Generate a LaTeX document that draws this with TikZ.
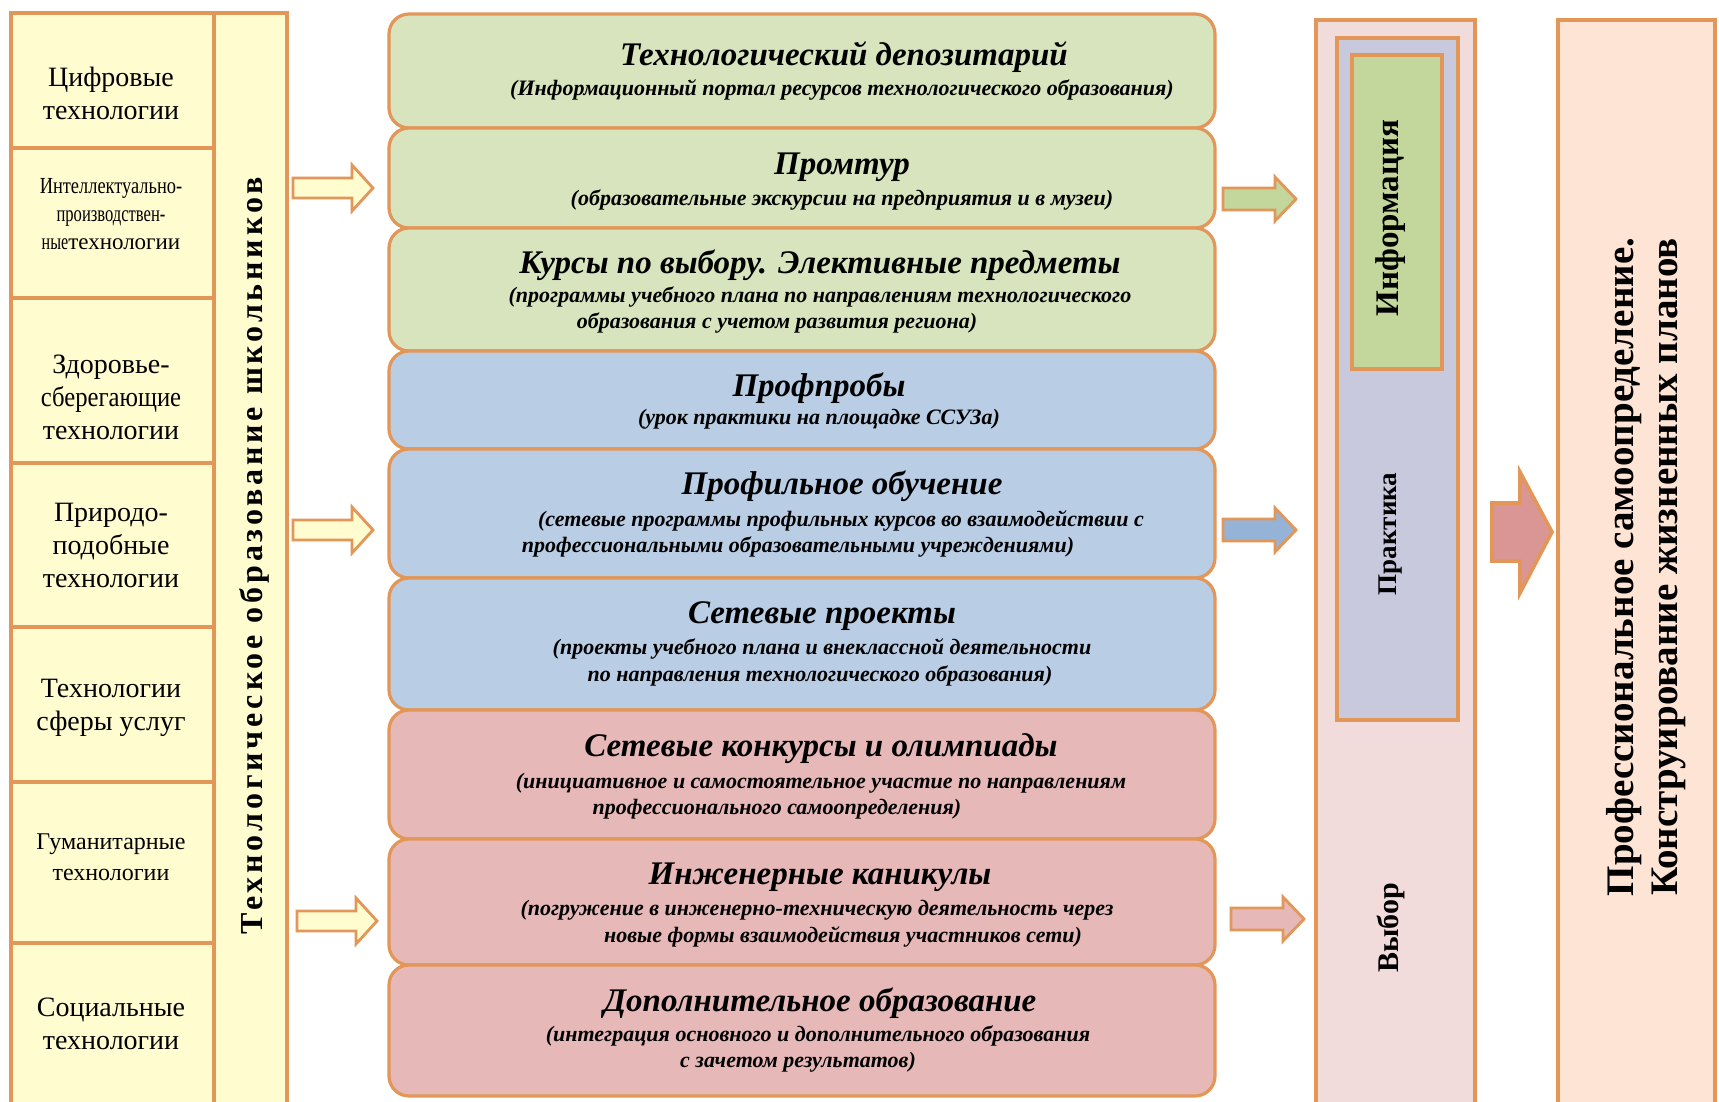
\documentclass[tikz,border=0pt]{standalone}
\usepackage{fontspec}
\usepackage{graphicx}
\setmainfont{Liberation Serif}
\newfontfamily\spacedfont{Liberation Serif}[LetterSpace=12]
\definecolor{obrd}{RGB}{226,150,88}
\definecolor{lyel}{RGB}{255,252,208}
\definecolor{gbox}{RGB}{215,228,189}
\definecolor{bbox}{RGB}{185,205,229}
\definecolor{rbox}{RGB}{230,184,183}
\definecolor{rcol}{RGB}{242,220,219}
\definecolor{pcol}{RGB}{200,201,220}
\definecolor{icol}{RGB}{195,214,155}
\definecolor{bigar}{RGB}{217,150,148}
\definecolor{fbox}{RGB}{253,228,212}
\definecolor{barr}{RGB}{149,179,215}
\tikzset{
  leftbox/.style={draw=obrd, line width=1.6pt, fill=lyel},
  midbox/.style={draw=obrd, line width=1.6pt, rounded corners=10pt},
  rbox/.style={draw=obrd, line width=1.6pt},
  blockarr/.style={draw=obrd, line width=1.4pt, line join=miter},
  ttl/.style={font=\bfseries\itshape\fontsize{16.5}{19}\selectfont, inner sep=0pt},
  subt/.style={font=\bfseries\itshape\fontsize{11}{13}\selectfont, inner sep=0pt},
  lbl/.style={font=\fontsize{14}{16.5}\selectfont, align=center, inner sep=0pt},
  rlbl/.style={font=\bfseries\fontsize{15}{18}\selectfont, rotate=90, inner sep=0pt},
}
\begin{document}
\begin{tikzpicture}[x=0.5pt,y=-0.5pt]
\useasboundingbox (0,0) rectangle (1719,1102);
\fill[white] (0,0) rectangle (1719,1102);
\clip (0,0) rectangle (1719,1102);

% ---------- left column ----------
\draw[leftbox] (11,13) rectangle (214,148);
\draw[leftbox] (11,148) rectangle (214,298);
\draw[leftbox] (11,298) rectangle (214,463);
\draw[leftbox] (11,463) rectangle (214,627);
\draw[leftbox] (11,627) rectangle (214,782);
\draw[leftbox] (11,782) rectangle (214,943);
\draw[leftbox] (11,943) rectangle (214,1130);
\draw[leftbox] (214,13) rectangle (287,1130);

\node[lbl] (l1) at (111,93) {Цифровые\\технологии};
\node[lbl, font=\fontsize{11.5}{14}\selectfont] (l2) at (111,214)
  {\scalebox{0.8}[1]{Интеллектуально-}\\\scalebox{0.72}[1]{производствен-}\\\scalebox{0.7}[1]{ные}технологии};
\node[lbl] (l3) at (111,397) {Здоровье-\\\scalebox{0.88}[1]{сберегающие}\\технологии};
\node[lbl] (l4) at (111,545) {Природо-\\подобные\\технологии};
\node[lbl] (l5) at (111,708) {Технологии\\сферы услуг};
\node[lbl, font=\fontsize{12}{15.5}\selectfont] (l6) at (111,857) {Гуманитарные\\технологии};
\node[lbl] (l7) at (111,1024) {Социальные\\технологии};

\node[rotate=90, inner sep=0pt, font=\spacedfont\bfseries\fontsize{16}{19}\selectfont] (vt) at (254,556)
  {Технологическое образование школьников};

% ---------- left arrows ----------
\foreach \c/\dx in {188/0, 530/0, 921/4}{
  \draw[blockarr, fill=lyel] (293+\dx,\c-10) -- (352+\dx,\c-10) -- (352+\dx,\c-23) -- (373+\dx,\c)
     -- (352+\dx,\c+23) -- (352+\dx,\c+10) -- (293+\dx,\c+10) -- cycle;
}

% ---------- middle boxes ----------
\draw[midbox, fill=gbox] (389,14) rectangle (1215,128);
\draw[midbox, fill=gbox] (389,128) rectangle (1215,228);
\draw[midbox, fill=gbox] (389,228) rectangle (1215,351);
\draw[midbox, fill=bbox] (389,351) rectangle (1215,449);
\draw[midbox, fill=bbox] (389,449) rectangle (1215,578);
\draw[midbox, fill=bbox] (389,578) rectangle (1215,710);
\draw[midbox, fill=rbox] (389,710) rectangle (1215,839);
\draw[midbox, fill=rbox] (389,839) rectangle (1215,965);
\draw[midbox, fill=rbox] (389,965) rectangle (1215,1096);

\node[ttl] (t1) at (844,57) {Технологический депозитарий};
\node[subt] (s1) at (842,90) {(Информационный портал ресурсов технологического образования)};

\node[ttl] (t2) at (842,167) {Промтур};
\node[subt] (s2) at (842,200) {(образовательные экскурсии на предприятия  и в музеи)};

\node[ttl] (t3) at (820,265) {Курсы по выбору. Элективные предметы};
\node[subt] (s3a) at (820,297) {(программы учебного плана по направлениям технологического};
\node[subt] (s3b) at (777,323) {образования с учетом развития региона)};

\node[ttl] (t4) at (819,388) {Профпробы};
\node[subt] (s4) at (819,419) {(урок практики на площадке ССУЗа)};

\node[ttl] (t5) at (842,486) {Профильное обучение};
\node[subt] (s5a) at (841,521) {(сетевые программы профильных курсов во взаимодействии с};
\node[subt] (s5b) at (798,547) {профессиональными образовательными учреждениями)};

\node[ttl] (t6) at (822,616) {Сетевые проекты};
\node[subt] (s6a) at (822,649) {(проекты учебного плана  и  внеклассной деятельности};
\node[subt] (s6b) at (820,676) {по направления технологического образования)};

\node[ttl] (t7) at (821,749) {Сетевые конкурсы и олимпиады};
\node[subt] (s7a) at (821,783) {(инициативное  и самостоятельное участие по направлениям};
\node[subt] (s7b) at (777,809) {профессионального самоопределения)};

\node[ttl] (t8) at (820,877) {Инженерные каникулы};
\node[subt] (s8a) at (817,910) {(погружение в инженерно-техническую деятельность через};
\node[subt] (s8b) at (843,937) {новые формы взаимодействия участников сети)};

\node[ttl] (t9) at (820,1003) {Дополнительное  образование};
\node[subt] (s9a) at (818,1036) {(интеграция  основного и дополнительного  образования};
\node[subt] (s9b) at (798,1062) {с зачетом результатов)};

% ---------- right arrows ----------
\foreach \c/\dx/\col in {199/0/icol, 530/0/barr, 919/8/rbox}{
  \draw[blockarr, fill=\col] (1223+\dx,\c-11) -- (1275+\dx,\c-11) -- (1275+\dx,\c-22) -- (1296+\dx,\c)
     -- (1275+\dx,\c+22) -- (1275+\dx,\c+11) -- (1223+\dx,\c+11) -- cycle;
}

% ---------- right column ----------
\draw[rbox, fill=rcol] (1316,20) rectangle (1475,1130);
\draw[rbox, fill=pcol] (1337,38) rectangle (1458,720);
\draw[rbox, fill=icol] (1352,55) rectangle (1442,369);
\node[rlbl, font=\bfseries\fontsize{16.5}{19}\selectfont] (r1) at (1391,218) {Информация};
\node[rlbl, font=\bfseries\fontsize{13.5}{16}\selectfont] (r2) at (1391,534) {Практика};
\node[rlbl] (r3) at (1391,928) {Выбор};

% ---------- big arrow ----------
\draw[blockarr, fill=bigar, line width=1.8pt] (1492,503) -- (1520,503) -- (1520,472) -- (1552,532)
   -- (1520,593) -- (1520,561) -- (1492,561) -- cycle;

% ---------- final box ----------
\draw[rbox, fill=fbox] (1558,20) rectangle (1715,1130);
\node[rotate=90, align=center, inner sep=0pt, font=\bfseries\fontsize{19.5}{22}\selectfont] (fin) at (1646,567)
  {Профессиональное самоопределение.\\Конструирование жизненных планов};
\end{tikzpicture}
\end{document}
